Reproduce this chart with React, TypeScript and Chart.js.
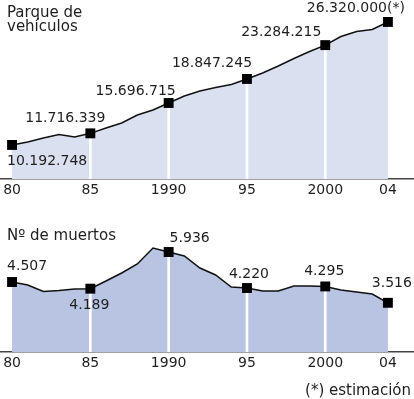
import React, { useEffect, useRef } from "react";
import { Chart, registerables } from "chart.js";

Chart.register(...registerables);

// ---- data ----
const YEARS = [1980, 1981, 1982, 1983, 1984, 1985, 1986, 1987, 1988, 1989, 1990, 1991, 1992, 1993, 1994, 1995, 1996, 1997, 1998, 1999, 2000, 2001, 2002, 2003, 2004];
const VEHICLES = [10192748, 10580000, 11110000, 11570000, 11240000, 11716339, 12420000, 13070000, 14120000, 14780000, 15696715, 16610000, 17270000, 17730000, 18120000, 18847245, 19630000, 20540000, 21530000, 22450000, 23284215, 24410000, 25070000, 25330000, 26320000];
const DEATHS = [4507, 4364, 4055, 4103, 4174, 4189, 4555, 4935, 5364, 6126, 5936, 5745, 5173, 4840, 4269, 4220, 4079, 4079, 4317, 4317, 4295, 4126, 4031, 3936, 3516];
const MARK_YEARS = [1980, 1985, 1990, 1995, 2000, 2004];
const TICK_LABELS = ["80", "85", "1990", "95", "2000", "04"];
const VEHICLE_LABELS = ["10.192.748", "11.716.339", "15.696.715", "18.847.245", "23.284.215", "26.320.000(*)"];
const DEATH_LABELS = ["4.507", "4.189", "5.936", "4.220", "4.295", "3.516"];
const VEHICLE_TITLE = ["Parque de", "vehículos"];
const DEATH_TITLE = ["Nº de muertos"];
const FOOTNOTE = "(*) estimación";

const FONT = "DejaVu Sans";
const TEXT = "#1e1e1e";

type Off = { dx: number; dy: number; align: CanvasTextAlign };

const VEH_OFF: Off[] = [
  { dx: -5, dy: 16, align: "left" },
  { dx: -25, dy: -15, align: "center" },
  { dx: -33, dy: -12, align: "center" },
  { dx: -35, dy: -16, align: "center" },
  { dx: -44, dy: -13, align: "center" },
  { dx: -32, dy: -14, align: "center" },
];
const DEATH_OFF: Off[] = [
  { dx: -5, dy: -16, align: "left" },
  { dx: -1, dy: 17, align: "center" },
  { dx: 21, dy: -14, align: "center" },
  { dx: 2, dy: -14, align: "center" },
  { dx: -1, dy: -15, align: "center" },
  { dx: 4, dy: -19, align: "center" },
];

function makeConfig(opts: {
  values: number[];
  labels: string[];
  offsets: Off[];
  fillColor: string;
  yMin: number;
  yMax: number;
  axisHeight: number;
  title: string[];
  titleBaselines: number[];
  footnote?: { text: string; x: number; y: number };
}) {
  const pts = YEARS.map((x, i) => ({ x, y: opts.values[i] }));
  const markVal = (yr: number) => opts.values[YEARS.indexOf(yr)];
  const interior = MARK_YEARS.slice(1, -1).map((x) => ({ x, y: markVal(x) }));

  const labelPlugin = {
    id: "valueLabels",
    afterDatasetsDraw(chart: any) {
      const meta = chart.getDatasetMeta(2);
      const ctx = chart.ctx;
      ctx.save();
      ctx.font = `14px "${FONT}"`;
      ctx.fillStyle = TEXT;
      ctx.textBaseline = "middle";
      MARK_YEARS.forEach((yr, k) => {
        const el = meta.data[YEARS.indexOf(yr)];
        const o = opts.offsets[k];
        ctx.textAlign = o.align;
        ctx.fillText(opts.labels[k], el.x + o.dx, el.y + o.dy);
      });
      ctx.restore();
    },
    afterDraw(chart: any) {
      const ctx = chart.ctx;
      ctx.save();
      ctx.font = `15px "${FONT}"`;
      ctx.fillStyle = TEXT;
      ctx.textBaseline = "alphabetic";
      ctx.textAlign = "left";
      opts.title.forEach((t, i) => ctx.fillText(t, 7, opts.titleBaselines[i]));
      if (opts.footnote) {
        ctx.textAlign = "right";
        ctx.fillText(opts.footnote.text, opts.footnote.x, opts.footnote.y);
      }
      ctx.restore();
    },
  };

  return {
    type: "line" as const,
    data: {
      datasets: [
        {
          type: "line",
          data: pts,
          fill: "start",
          backgroundColor: opts.fillColor,
          borderWidth: 0,
          pointRadius: 0,
          order: 3,
        },
        {
          type: "bar",
          data: interior,
          backgroundColor: "#ffffff",
          barThickness: 2,
          order: 2,
        },
        {
          type: "line",
          data: pts,
          fill: false,
          borderColor: "#111111",
          borderWidth: 1.5,
          tension: 0,
          pointStyle: "rect",
          pointRadius: YEARS.map((y) => (MARK_YEARS.includes(y) ? 7 : 0)),
          pointBackgroundColor: "#000000",
          pointBorderWidth: 0,
          order: 1,
          clip: false,
        },
      ],
    },
    options: {
      animation: false,
      responsive: false,
      layout: { padding: 0, autoPadding: false },
      plugins: {
        legend: { display: false },
        tooltip: { enabled: false },
        title: { display: false },
      },
      scales: {
        x: {
          type: "linear",
          offset: false,
          min: 1980 - 12 / 15.6,
          max: 2004 + 26 / 15.6,
          afterFit: (s: any) => {
            s.height = opts.axisHeight;
          },
          afterBuildTicks: (s: any) => {
            s.ticks = MARK_YEARS.map((v) => ({ value: v }));
          },
          ticks: {
            autoSkip: false,
            maxRotation: 0,
            padding: 3,
            color: TEXT,
            font: { family: FONT, size: 14 },
            callback: (v: number) => {
              const i = MARK_YEARS.indexOf(v);
              return i >= 0 ? TICK_LABELS[i] : "";
            },
          },
          grid: { display: false, drawTicks: false, offset: false },
          border: { display: true, color: "#444444", width: 1.5 },
        },
        y: {
          display: false,
          min: opts.yMin,
          max: opts.yMax,
        },
      },
    },
    plugins: [labelPlugin],
  };
}

export default function App() {
  const topRef = useRef<HTMLCanvasElement>(null);
  const botRef = useRef<HTMLCanvasElement>(null);

  useEffect(() => {
    const top = new Chart(
      topRef.current as HTMLCanvasElement,
      makeConfig({
        values: VEHICLES,
        labels: VEHICLE_LABELS,
        offsets: VEH_OFF,
        fillColor: "rgb(218,224,240)",
        yMin: 5730000,
        yMax: 29200000,
        axisHeight: 21,
        title: VEHICLE_TITLE,
        titleBaselines: [17, 31],
      }) as any
    );
    const bot = new Chart(
      botRef.current as HTMLCanvasElement,
      makeConfig({
        values: DEATHS,
        labels: DEATH_LABELS,
        offsets: DEATH_OFF,
        fillColor: "rgb(184,196,226)",
        yMin: 1173,
        yMax: 8413,
        axisHeight: 47,
        title: DEATH_TITLE,
        titleBaselines: [40],
        footnote: { text: FOOTNOTE, x: 411, y: 195 },
      }) as any
    );
    return () => {
      top.destroy();
      bot.destroy();
    };
  }, []);

  return (
    <div style={{ position: "absolute", top: 0, left: 0, width: 414, height: 399, background: "#fff" }}>
      <canvas ref={topRef} width={414} height={200} style={{ display: "block" }} />
      <canvas ref={botRef} width={414} height={199} style={{ display: "block" }} />
    </div>
  );
}
